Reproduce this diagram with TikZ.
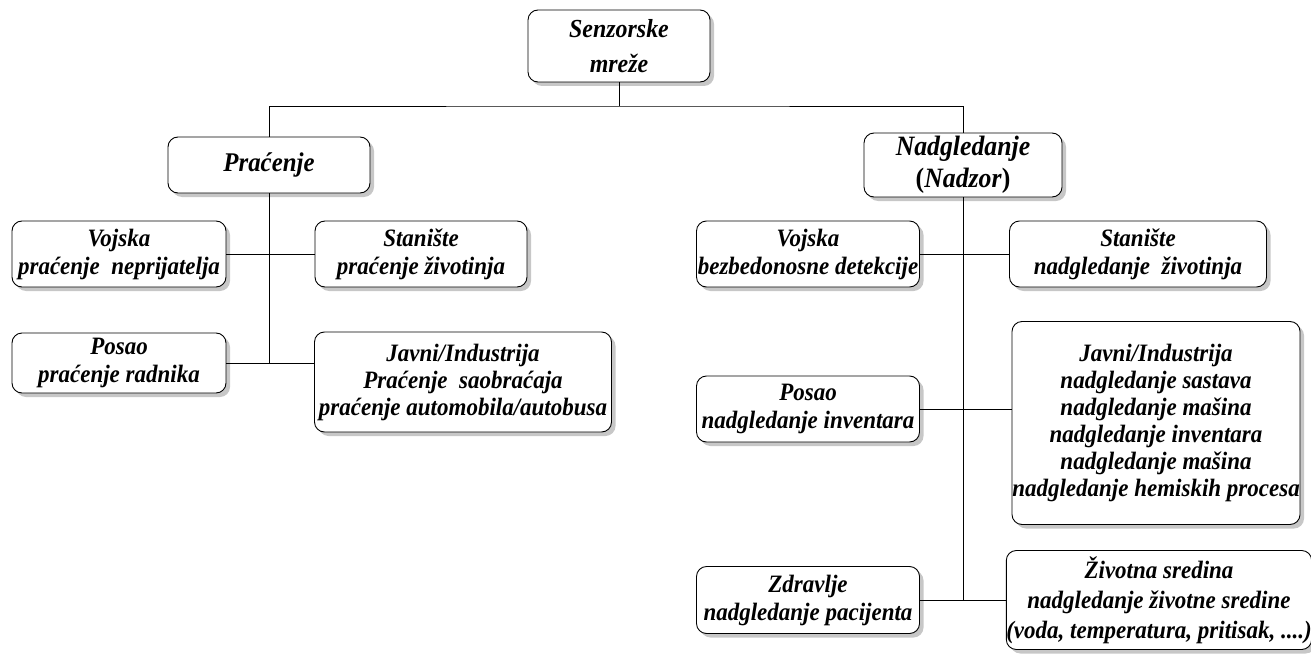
\documentclass[tikz,border=0pt]{standalone}
\usepackage{fontspec}
\setmainfont{Liberation Serif}[FakeStretch=0.92]
\usetikzlibrary{shadows}
\begin{document}
\begin{tikzpicture}[x=1pt,y=-1pt,
  box/.style={draw=black, line width=0.9pt, rounded corners=10pt, fill=white,
    align=center, inner sep=0pt, font=\bfseries\itshape\fontsize{25}{28}\selectfont,
    general shadow={fill=black!22, shadow xshift=4pt, shadow yshift=-4pt}},
  link/.style={draw=black, line width=0.9pt}]
\useasboundingbox (0,0) rectangle (1311,666);
% root and the two branches
\node[box, minimum width=182pt, minimum height=72pt, font=\bfseries\itshape\fontsize{26}{35}\selectfont] (top) at (619,46) {Senzorske\\mreže};
\node[box, minimum width=202pt, minimum height=56pt, font=\bfseries\itshape\fontsize{27}{30}\selectfont] (prac) at (269,165) {Praćenje};
\node[box, minimum width=198pt, minimum height=64pt, font=\bfseries\itshape\fontsize{28}{32}\selectfont] (nadg) at (963,165) {Nadgledanje\\\textup{(}Nadzor\textup{)}};
% tracking leaves
\node[box, minimum width=214pt, minimum height=66pt] (vojL) at (119,254) {Vojska\\praćenje\ \ neprijatelja};
\node[box, minimum width=212pt, minimum height=66pt] (stanL) at (421,254) {Stanište\\praćenje životinja};
\node[box, minimum width=214pt, minimum height=60pt] (posL) at (119,363) {Posao\\praćenje radnika};
\node[box, minimum width=297pt, minimum height=100pt, font=\bfseries\itshape\fontsize{25}{27}\selectfont] (javL) at (463,382) {Javni/Industrija\\Praćenje\ \ saobraćaja\\praćenje automobila/autobusa};
% monitoring leaves
\node[box, minimum width=223pt, minimum height=66pt] (vojR) at (808,254) {Vojska\\bezbedonosne detekcije};
\node[box, minimum width=257pt, minimum height=66pt] (stanR) at (1138,254) {Stanište\\nadgledanje\ \ životinja};
\node[box, minimum width=223pt, minimum height=66pt] (posR) at (808,409) {Posao\\nadgledanje inventara};
\node[box, minimum width=288pt, minimum height=203pt, font=\bfseries\itshape\fontsize{25}{27}\selectfont] (javR) at (1156,423) {Javni/Industrija\\nadgledanje sastava\\nadgledanje mašina\\nadgledanje inventara\\nadgledanje mašina\\nadgledanje hemiskih procesa};
\node[box, minimum width=223pt, minimum height=67pt] (zdr) at (808,600) {Zdravlje\\nadgledanje pacijenta};
\node[box, minimum width=299pt, minimum height=99pt, font=\bfseries\itshape\fontsize{25}{30}\selectfont] (ziv) at (1159,600) {Životna sredina\\nadgledanje životne sredine\\(voda, temperatura, pritisak, ....)};
% connectors
\coordinate (bus) at (619,106);
\draw[link] (top.south) -- (bus);
\draw[link] (prac.north) |- (bus) -| (nadg.north);
\draw[link] (prac.south) -- (prac.south |- posL.east);
\draw[link] (vojL.east) -- (stanL.west);
\draw[link] (posL.east) -- (posL.east -| javL.west);
\draw[link] (nadg.south) -- (nadg.south |- zdr.east);
\draw[link] (vojR.east) -- (stanR.west);
\draw[link] (posR.east) -- (posR.east -| javR.west);
\draw[link] (zdr.east) -- (zdr.east -| ziv.west);
\end{tikzpicture}
\end{document}
